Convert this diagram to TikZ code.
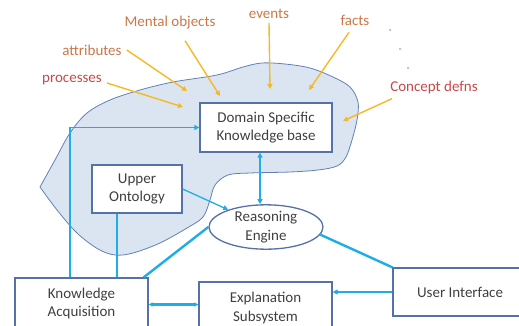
\documentclass[tikz,border=0pt]{standalone}
\usepackage{fontspec}
\setmainfont{Carlito}
\usetikzlibrary{arrows.meta,shapes.geometric}

\definecolor{boxline}{HTML}{5670A8}
\definecolor{blobfill}{HTML}{DBE5F1}
\definecolor{blobline}{HTML}{6480B8}
\definecolor{linkblue}{HTML}{1DAEE6}
\definecolor{feedgold}{HTML}{F6B924}
\definecolor{tagbrown}{HTML}{CB7748}
\definecolor{tagred}{HTML}{C9474A}
\definecolor{inktext}{HTML}{404040}

\tikzset{
	part/.style={draw=boxline,line width=1.3pt,fill=white,rectangle,align=center,inner sep=0pt,text=inktext},
	tag/.style={font=\fontsize{15}{17}\selectfont,inner sep=1pt},
	feed/.style={draw=feedgold,line width=1.4pt,-{Triangle[length=5pt,width=5pt]}},
	link/.style={draw=linkblue,line width=1.6pt},
	tri/.style={-{Triangle[length=5pt,width=5pt]}},
}

\begin{document}
\begin{tikzpicture}[x=1pt,y=-1pt,font=\fontsize{15}{18.5}\selectfont]
	\useasboundingbox (0,0) rectangle (519,326);
	\clip (0,0) rectangle (519,326);

	\draw[fill=blobfill,draw=blobline,line width=0.8pt]
		plot[smooth,tension=0.55] coordinates {(40,187) (55,160) (70,133) (87,113) (110,100)
			(140,90) (173,82) (217,75) (243,67) (262,63) (285,64) (310,68) (333,77)
			(350,87) (358,102) (357,120) (352,140) (346,157) (337,166) (318,170)
			(290,172) (250,173) (228,175) (215,185) (210,200) (203,217) (187,228)
			(160,243) (133,253) (115,255) (98,249) (77,233) (57,210) (40,187)};

	\node[part,minimum width=132pt,minimum height=49pt] (dskb) at (266,127.5) {Domain Specific\\Knowledge base};
	\node[part,minimum width=90pt,minimum height=48pt] (upper) at (137,189) {Upper\\Ontology};
	\node[part,ellipse,minimum width=114pt,minimum height=40pt] (reason) at (266,227) {Reasoning\\Engine};
	\node[part,minimum width=133pt,minimum height=51pt] (kacq) at (81.5,303.5) {Knowledge\\Acquisition};
	\node[part,minimum width=133pt,minimum height=52pt] (expl) at (265.5,308) {Explanation\\Subsystem};
	\node[part,minimum width=134pt,minimum height=48pt] (ui) at (460,292) {User Interface};

	\node[tag,text=tagbrown] (mental) at (170,23) {Mental objects};
	\node[tag,text=tagbrown] (attr) at (92,50) {attributes};
	\node[tag,text=tagred] (proc) at (72,80) {processes};
	\node[tag,text=tagbrown] (events) at (269,14) {events};
	\node[tag,text=tagbrown] (facts) at (355,20) {facts};
	\node[tag,text=tagred] (cdef) at (434,88) {Concept defns};

	\coordinate (in-mental) at (220,96);
	\coordinate (in-attr) at (187,91);
	\coordinate (in-proc) at (183,107);
	\coordinate (in-events) at (270,89);
	\coordinate (in-facts) at (309,90);
	\coordinate (in-cdef) at (343,121);

	\draw[feed] ([xshift=15pt]mental.south) ++(0,10) -- (in-mental);
	\draw[feed] (attr.east) ++(4,0) -- (in-attr);
	\draw[feed] (proc.east) ++(4,3) -- (in-proc);
	\draw[feed] (events.south) ++(0,3) -- (in-events);
	\draw[feed] (facts.south) ++(-6,6) -- (in-facts);
	\draw[feed] (cdef.south west) ++(3,3) -- (in-cdef);

	\fill[tagbrown] (390,30) circle (0.8pt) (400,49) circle (0.8pt) (408,68) circle (0.8pt);

	\draw[link,tri] ([xshift=-11.5pt]kacq.north) |- (dskb.west);
	\draw[link] ([xshift=-20pt]upper.south) -- ([xshift=-20pt]upper.south |- kacq.north);
	\draw[link,line width=1.3pt,tri] (upper.east) -- (reason);
	\draw[link,line width=2pt,{Triangle[length=5pt,width=5pt]}-{Triangle[length=5pt,width=5pt]}]
		([xshift=-6pt]dskb.south) -- ([xshift=-6pt]dskb.south |- reason.north);
	\draw[link,line width=2.4pt] (reason.west) -- ([xshift=-5pt]kacq.north east);
	\draw[link,line width=2.4pt] (reason.-8) -- (ui.north west);
	\draw[link,line width=2pt,tri] (ui.west) -- (ui.west -| expl.east);
	\draw[link,line width=2.4pt,{Triangle[length=4pt,width=4pt]}-{Triangle[length=4pt,width=4pt]}]
		([yshift=-1pt]kacq.east) -- ([yshift=-1pt]kacq.east -| expl.west);
\end{tikzpicture}
\end{document}
